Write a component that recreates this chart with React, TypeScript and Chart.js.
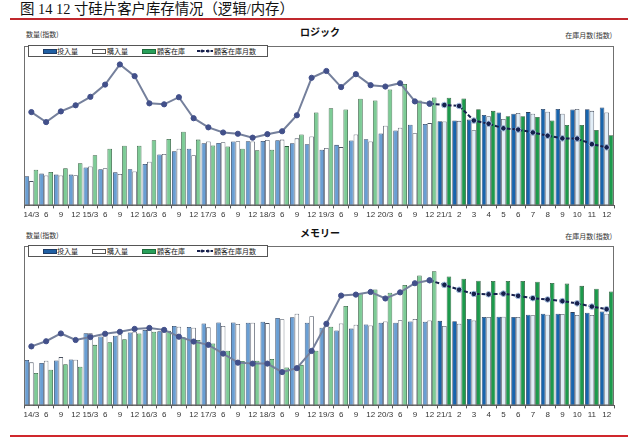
import React, { useRef, useEffect } from 'react';
import { Chart, registerables } from 'chart.js';

Chart.register(...registerables);

// quarterly through 20/12, then monthly for 2021
const categories = [
  '14/3', '6', '9', '12', '15/3', '6', '9', '12', '16/3', '6', '9', '12',
  '17/3', '6', '9', '12', '18/3', '6', '9', '12', '19/3', '6', '9', '12',
  '20/3', '6', '9', '12', '21/1', '2', '3', '4', '5', '6', '7', '8', '9', '10', '11', '12',
];

// ロジック (index)
const logicInput = [
  30, 32.7, 31.7, 31.7, 39, 37.3, 34, 37.3, 42.7, 52.3, 55.7, 58.3,
  64, 64.3, 65.7, 66, 66.3, 67, 64, 63, 57.3, 62.3, 66.7, 68,
  74, 77, 83, 83.7, 86.7, 87.3, 88.3, 93, 95.7, 94.3, 96, 99.3, 99.3, 98.7, 99, 100.7,
];
const logicPurchase = [
  25, 30.7, 30.7, 31, 40, 38.3, 32.3, 35, 45, 53, 58.3, 51.7,
  65.7, 65, 66, 65.7, 67.3, 67.7, 69, 71, 59, 60, 73, 65.7,
  82, 80, 74.3, 84.7, 86.3, 87, 77.3, 91.7, 89, 95, 94.3, 96.3, 94.3, 99.3, 97.3, 95.7,
];
const logicStock = [
  36.7, 34.3, 38.3, 43.3, 51.7, 58.3, 61.3, 61.3, 67, 68.3, 75.7, 67.7,
  61.7, 60.7, 58.3, 56.7, 57.3, 61, 73, 95.7, 100, 98.7, 109.7, 108,
  119.3, 125, 108, 111, 110.7, 110, 99, 97.3, 91.7, 91.7, 91, 87.3, 82.7, 82.7, 77.7, 72.3,
];
const logicMonths = [
  96, 85.7, 96.7, 103, 111.7, 124.3, 145, 133, 105, 104, 111.3, 89.7,
  80.3, 75, 73.7, 69.7, 73.3, 76.3, 92.7, 131.3, 138.3, 121.7, 135, 123.7,
  122.3, 125.7, 107, 104.7, 103.3, 102.3, 87.3, 84, 79.3, 78, 75, 71.7, 69, 68.7, 63, 59.7,
];

// メモリー (index)
const memoryInput = [
  46.7, 43.7, 46.3, 47.3, 74.3, 71, 71.7, 75, 77.7, 76.3, 81.7, 80.7,
  84.3, 85.3, 85.3, 85, 86, 90, 90.7, 85, 80, 77, 79, 83.3,
  85, 85, 86.3, 86, 87, 86.7, 89, 91, 91.3, 91, 93.3, 94.3, 94.3, 96, 95.3, 96.7,
];
const memoryPurchase = [
  44.3, 46, 49.7, 47, 74.3, 73, 73, 75.7, 77.7, 77.7, 81, 80,
  80.3, 81.7, 83.7, 85, 84.7, 88.7, 94.3, 91.7, 81.7, 84.3, 83, 82.3,
  86.3, 87.7, 89, 87.3, 81.7, 84, 87.3, 91, 91.3, 91, 92.7, 93.3, 94, 93, 93, 94.3,
];
const memoryStock = [
  33.3, 36.7, 42.3, 39.7, 62.3, 65, 68, 74, 75.7, 76.7, 70, 67.3,
  63.7, 56.3, 45.7, 46, 47.7, 39, 41.7, 56.3, 81, 102.3, 115.3, 119.3,
  116, 124, 133.7, 138, 132.7, 130.3, 128.3, 128, 128, 128, 127.3, 126, 125.3, 123, 120, 117.3,
];
const memoryMonths = [
  60.7, 66, 74, 67.3, 70.3, 73.7, 75.7, 78.7, 79.7, 77.7, 70.7, 65.7,
  62.3, 53.3, 44, 43, 43, 34.3, 38.3, 56, 84, 113, 114, 116.7,
  110, 116.3, 125.7, 128.7, 124, 119, 114.7, 114.3, 115, 112.7, 110.3, 109, 107.3, 105, 101.7, 99,
];

const MONTHLY_START = categories.indexOf('21/1');

const LIGHT_BLUE = '#6a9fd4';
const DARK_BLUE = '#1764ad';
const LIGHT_GREEN = '#7dcc96';
const DARK_GREEN = '#1c9a4c';
const LINE_GRAY = '#75809c';
const LINE_DARK = '#17204d';

const boxPlugin = {
  id: 'plotBox',
  afterDraw(chart: any) {
    const { ctx, chartArea: a } = chart;
    ctx.save();
    ctx.strokeStyle = '#707070';
    ctx.lineWidth = 1;
    ctx.strokeRect(a.left + 0.5, a.top + 0.5, a.right - a.left - 1, a.bottom - a.top - 1);
    ctx.restore();
  },
};

type PanelProps = {
  input: number[];
  purchase: number[];
  stock: number[];
  months: number[];
  top: number;
};

const PanelChart = ({ input, purchase, stock, months, top }: PanelProps) => {
  const canvasRef = useRef<HTMLCanvasElement>(null);

  useEffect(() => {
    if (!canvasRef.current) return;
    const monthly = (i: number) => i >= MONTHLY_START;
    const barCommon = {
      type: 'bar' as const,
      yAxisID: 'y',
      order: 2,
      borderWidth: 0.8,
      categoryPercentage: 0.93,
      barPercentage: 1,
    };
    const chart = new Chart(canvasRef.current, {
      type: 'bar',
      data: {
        labels: categories,
        datasets: [
          {
            ...barCommon,
            label: '投入量',
            data: input,
            backgroundColor: input.map((_, i) => (monthly(i) ? DARK_BLUE : LIGHT_BLUE)),
            borderColor: '#2d4160',
          },
          {
            ...barCommon,
            label: '購入量',
            data: purchase,
            backgroundColor: purchase.map((_, i) => (monthly(i) ? '#e2eef8' : '#ffffff')),
            borderColor: '#4a5260',
          },
          {
            ...barCommon,
            label: '顧客在庫',
            data: stock,
            backgroundColor: stock.map((_, i) => (monthly(i) ? DARK_GREEN : LIGHT_GREEN)),
            borderColor: '#2e5a3c',
          },
          {
            type: 'line',
            label: '顧客在庫月数',
            data: months.map((v, i) => (i <= MONTHLY_START - 1 ? v : null)),
            yAxisID: 'y1',
            order: 0,
            borderColor: LINE_GRAY,
            borderWidth: 2,
            pointRadius: 2.6,
            pointBackgroundColor: '#42508a',
            pointBorderColor: '#42508a',
            pointBorderWidth: 1,
            spanGaps: false,
          },
          {
            type: 'line',
            label: '顧客在庫月数 (月次)',
            data: months.map((v, i) => (i >= MONTHLY_START - 1 ? v : null)),
            yAxisID: 'y1',
            order: 0,
            borderColor: LINE_DARK,
            borderWidth: 2,
            borderDash: [4, 2],
            pointRadius: 2.8,
            pointBackgroundColor: LINE_DARK,
            pointBorderColor: '#a9c4e4',
            pointBorderWidth: 1,
            spanGaps: false,
          },
        ],
      },
      options: {
        animation: false,
        responsive: false,
        layout: { padding: { left: 10, right: 10, top: 0, bottom: 0 } },
        plugins: { legend: { display: false }, tooltip: { enabled: false } },
        scales: {
          x: {
            offset: true,
            grid: { display: true, drawOnChartArea: false, tickLength: 3, color: '#555', offset: true },
            border: { color: '#555' },
            ticks: {
              autoSkip: false,
              maxRotation: 0,
              padding: 2,
              color: '#333',
              font: { size: 8, family: "'Liberation Sans', Arial, sans-serif" },
            },
          },
          y: { display: false, min: 0, max: 164 },
          y1: { display: false, position: 'right', min: 0, max: 164 },
        },
      },
      plugins: [boxPlugin],
    } as any);
    return () => {
      chart.destroy();
    };
  }, []);

  return (
    <canvas
      ref={canvasRef}
      width={610}
      height={181}
      style={{ position: 'absolute', left: 14, top, width: 610, height: 181 }}
    />
  );
};

const legendText: React.CSSProperties = {
  position: 'absolute',
  top: 0,
  fontSize: 7,
  lineHeight: '10px',
  color: '#222',
  whiteSpace: 'nowrap',
};

const swatch = (left: number, bg: string, border: string): React.CSSProperties => ({
  position: 'absolute',
  left,
  top: 3,
  width: 12,
  height: 3,
  background: bg,
  border: `1px solid ${border}`,
});

const Legend = ({ top }: { top: number }) => (
  <div
    style={{
      position: 'absolute',
      left: 28,
      top,
      width: 238,
      height: 10,
      border: '1px solid #555',
      background: '#fff',
      zIndex: 2,
    }}
  >
    <div style={swatch(14, '#1f5fa3', '#1f3d66')} />
    <div style={{ ...legendText, left: 28 }}>投入量</div>
    <div style={swatch(63, '#fff', '#555')} />
    <div style={{ ...legendText, left: 78 }}>購入量</div>
    <div style={swatch(113, '#28a05a', '#1f6a3c')} />
    <div style={{ ...legendText, left: 128 }}>顧客在庫</div>
    <svg style={{ position: 'absolute', left: 168, top: 1 }} width={16} height={8}>
      <line x1={0} y1={4} x2={16} y2={4} stroke={LINE_DARK} strokeWidth={2} strokeDasharray="3 1.5" />
      <circle cx={5} cy={4} r={1.6} fill={LINE_DARK} />
      <circle cx={11} cy={4} r={1.6} fill={LINE_DARK} />
    </svg>
    <div style={{ ...legendText, left: 185 }}>顧客在庫月数</div>
  </div>
);

const smallLabel: React.CSSProperties = {
  position: 'absolute',
  fontSize: 7,
  lineHeight: '8px',
  color: '#333',
  whiteSpace: 'nowrap',
};

const PanelTexts = ({ title, dy }: { title: string; dy: number }) => (
  <>
    <div
      style={{
        position: 'absolute',
        left: 0,
        width: 640,
        top: 26 + dy,
        textAlign: 'center',
        fontSize: 10,
        lineHeight: '12px',
        fontWeight: 'bold',
        color: '#111',
      }}
    >
      {title}
    </div>
    <div style={{ ...smallLabel, left: 26, top: 30 + dy }}>数量(指数)</div>
    <div style={{ ...smallLabel, right: 28, top: 31 + dy }}>在庫月数(指数)</div>
  </>
);

export default function App() {
  useEffect(() => {
    document.body.style.margin = '0';
  }, []);

  return (
    <div
      style={{
        position: 'relative',
        width: 640,
        height: 438,
        background: '#fff',
        overflow: 'hidden',
        fontFamily: "'Noto Sans CJK JP', 'Noto Sans', sans-serif",
      }}
    >
      <div
        style={{
          position: 'absolute',
          left: 20,
          top: 1,
          fontSize: 14.4,
          lineHeight: '16px',
          color: '#111',
          whiteSpace: 'nowrap',
          fontFamily: "'Liberation Serif', 'Noto Sans CJK SC', serif",
        }}
      >
        图 14 12 寸硅片客户库存情况（逻辑/内存）
      </div>
      <div style={{ position: 'absolute', left: 10, top: 18, width: 618, height: 2, background: '#c0282d' }} />

      <PanelTexts title="ロジック" dy={0} />
      <PanelChart input={logicInput} purchase={logicPurchase} stock={logicStock} months={logicMonths} top={41} />
      <Legend top={45} />

      <PanelTexts title="メモリー" dy={201} />
      <PanelChart input={memoryInput} purchase={memoryPurchase} stock={memoryStock} months={memoryMonths} top={241} />
      <Legend top={245} />

      <div style={{ position: 'absolute', left: 10, top: 435, width: 618, height: 1.5, background: '#d0282d' }} />
    </div>
  );
}
